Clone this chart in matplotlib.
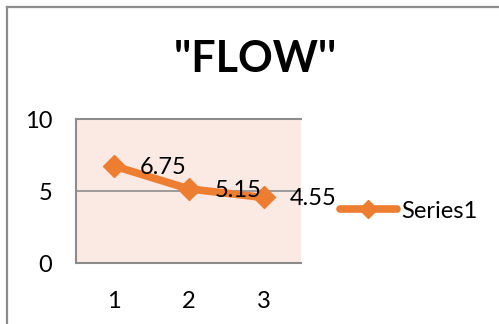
import matplotlib
matplotlib.use("Agg")
import matplotlib.pyplot as plt
from matplotlib.lines import Line2D

plt.rcParams['font.family'] = ['Lato', 'DejaVu Sans']

# data
categories = [1, 2, 3]
values = [6.75, 5.15, 4.55]
value_labels = ['6.75', '5.15', '4.55']
y_ticks = [0, 5, 10]
series_name = 'Series1'
title = "''FLOW''"

W, H = 499, 324
fig = plt.figure(figsize=(W / 100, H / 100), dpi=100)

# outer chart border: only top and left edges are inside the image
border = '#8c8c8c'
fig.add_artist(Line2D([7 / W, 7 / W], [0, 1 - 7 / H], color=border, linewidth=1.6,
                      transform=fig.transFigure))
fig.add_artist(Line2D([7 / W, 1.01], [1 - 7 / H, 1 - 7 / H], color=border, linewidth=1.6,
                      transform=fig.transFigure))

# plot area
left, right, top, bottom = 76, 301, 119, 263
ax = fig.add_axes([left / W, (H - bottom) / H, (right - left) / W, (bottom - top) / H])
ax.set_facecolor('#fbe9e4')

orange = '#ed7d31'
ax.plot(categories, values, color=orange, linewidth=5.5, marker='D',
        markersize=11, label=series_name, solid_capstyle='round', zorder=3)

for x, v, s in zip(categories, values, value_labels):
    ax.annotate(s, (x, v), xytext=(19, -1), textcoords='offset points',
                ha='left', va='center', fontsize=17, color='#000000',
                annotation_clip=False, zorder=4)

ax.set_xlim(0.5, 3.5)
ax.set_ylim(0, 10)
ax.set_xticks(categories)
ax.set_yticks(y_ticks)
ax.tick_params(axis='both', length=0, labelsize=17)
ax.tick_params(axis='y', pad=17)
ax.tick_params(axis='x', pad=20)
ax.axhline(5, color=border, linewidth=1.2, zorder=1)

for side in ['left', 'top', 'bottom']:
    ax.spines[side].set_color(border)
    ax.spines[side].set_linewidth(1.5)
ax.spines['right'].set_visible(False)

fig.text(255 / W, 1 - 59 / H, title, ha='center', va='center',
         fontsize=31, fontweight='bold')

leg = fig.legend(loc='center left', bbox_to_anchor=(340 / W, 1 - 211 / H),
                 frameon=False, fontsize=17, handlelength=2.4,
                 handletextpad=0.2, borderpad=0, borderaxespad=0,
                 markerscale=0.85)

fig.savefig('out.png', dpi=100)
